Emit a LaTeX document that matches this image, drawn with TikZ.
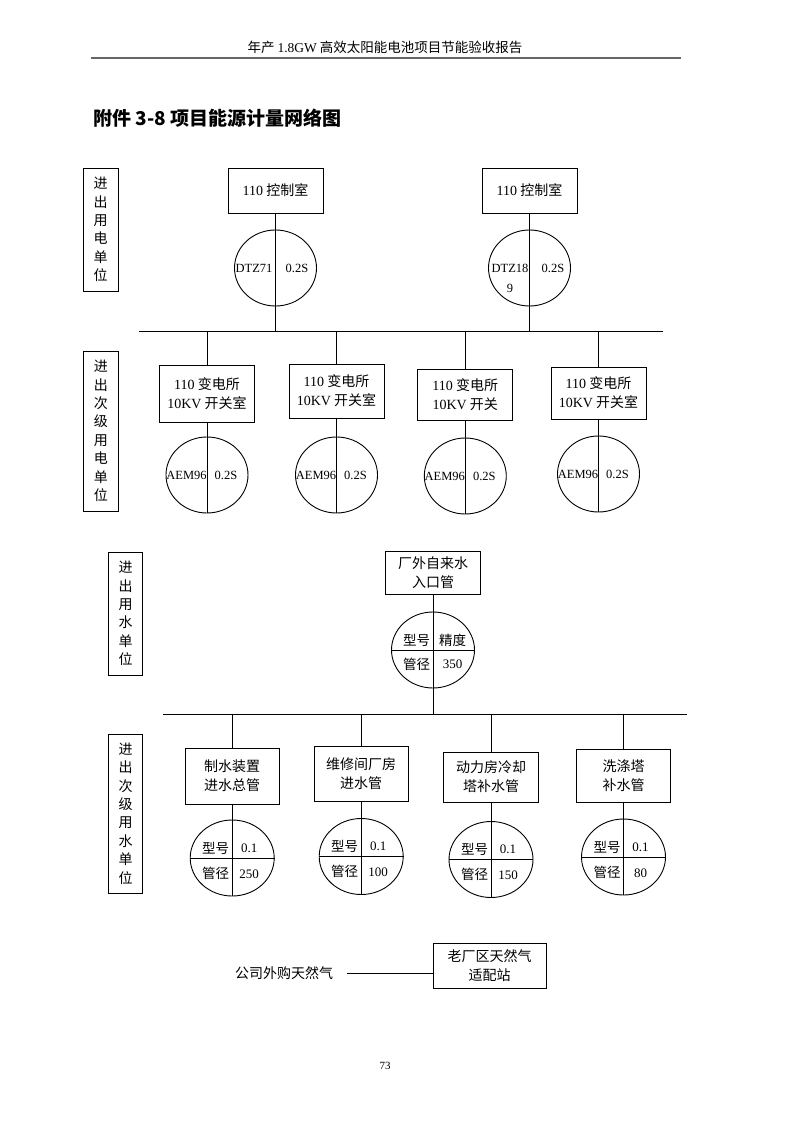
\documentclass[tikz,border=0pt]{standalone}
\usepackage{fontspec}
\setmainfont{Noto Sans CJK SC}
\newfontfamily\tms{Liberation Serif}
\usetikzlibrary{shapes.geometric}
\begin{document}
\begin{tikzpicture}[x=1pt,y=-1pt,
  every node/.style={inner sep=0pt},
  wire/.style={line width=0.9pt},
  boxn/.style={draw, line width=0.9pt, align=center, font=\fontsize{14}{19}\selectfont},
  meter/.style={draw, ellipse, line width=0.9pt, minimum width=82pt, minimum height=76pt},
  lbl/.style={draw, line width=0.9pt, align=center, minimum width=35pt, font=\fontsize{14}{18.4}\selectfont},
  mt/.style={font=\fontsize{12.5}{20}\selectfont\tms},
  ct/.style={font=\fontsize{13.5}{16}\selectfont},
  nt/.style={font=\fontsize{13}{16}\selectfont\tms},
]
\fill[white] (0,0) rectangle (800,1131);
\useasboundingbox (0,0) rectangle (800,1131);

% header
\node[font=\fontsize{13.5}{15}\selectfont] (hd) at (385,47) {年产 {\tms 1.8GW} 高效太阳能电池项目节能验收报告};
\coordinate (hl) at (91,58);
\coordinate (hr) at (681,58);
\draw[line width=1.8pt, black!60] (hl) -- (hr);
\node[font=\fontsize{19}{21}\selectfont\bfseries, anchor=west] (ttl) at (93,118) {附件 3-8 项目能源计量网络图};

% ---------- section 1 ----------
\node[lbl, minimum height=123pt] (lab1) at (100.5,229.5) {进\\出\\用\\电\\单\\位};
\node[boxn, minimum width=95pt, minimum height=45pt] (c1) at (275.5,190.5) {{\tms 110} 控制室};
\node[boxn, minimum width=95pt, minimum height=45pt] (c2) at (529.5,190.5) {{\tms 110} 控制室};
\node[meter] (m1) at (275.5,268) {};
\node[meter] (m2) at (529.5,268) {};
\coordinate (b1L) at (139,331);
\coordinate (b1R) at (663,331);
\draw[wire] (b1L) -- (b1R);
\draw[wire] (c1.south) -- (c1.south |- b1L);
\draw[wire] (c2.south) -- (c2.south |- b1L);
\node[mt] (m1l) at (254,268) {DTZ71};
\node[mt] (m1r) at (297,268) {0.2S};
\node[mt, align=center] (m2l) at (510,278) {DTZ18\\9};
\node[mt] (m2r) at (553,268) {0.2S};

% ---------- section 2 ----------
\node[lbl, minimum height=160pt] (lab2) at (100.75,431) {进\\出\\次\\级\\用\\电\\单\\位};
\node[boxn, minimum width=95pt, minimum height=57pt] (s1) at (207,393.5) {{\tms 110} 变电所\\{\tms 10KV} 开关室};
\node[boxn, minimum width=95pt, minimum height=54pt] (s2) at (336.5,391) {{\tms 110} 变电所\\{\tms 10KV} 开关室};
\node[boxn, minimum width=95pt, minimum height=51pt] (s3) at (465.3,394.5) {{\tms 110} 变电所\\{\tms 10KV} 开关};
\node[boxn, minimum width=95pt, minimum height=52pt] (s4) at (598.5,393) {{\tms 110} 变电所\\{\tms 10KV} 开关室};
\foreach \i in {1,2,3,4} {
  \draw[wire] (s\i.north |- b1L) -- (s\i.north);
}
\node[meter] (e1) at (207,475) {};
\node[meter] (e2) at (336.5,475) {};
\node[meter] (e3) at (465.3,476) {};
\node[meter] (e4) at (598.5,474) {};
\foreach \i in {1,2,3,4} {
  \draw[wire] (s\i.south) -- (e\i.south);
  \node[mt] (e\i l) at ([xshift=-20.5pt]e\i.center) {AEM96};
  \node[mt] (e\i r) at ([xshift=19pt]e\i.center) {0.2S};
}

% ---------- section 3 ----------
\node[lbl, minimum width=34.5pt, minimum height=123pt] (lab3) at (125.6,613.5) {进\\出\\用\\水\\单\\位};
\node[boxn, minimum width=95pt, minimum height=43pt] (w0) at (433,572.5) {厂外自来水\\入口管};
\node[meter, minimum width=83pt] (w0m) at (433,650) {};
\coordinate (b2L) at (163,714);
\coordinate (b2R) at (687,714);
\draw[wire] (b2L) -- (b2R);
\draw[wire] (w0.south) -- (w0.south |- b2L);
\draw[wire] (w0m.west) -- (w0m.east);
\node[ct] (w0a) at (416.5,640) {型号};
\node[ct] (w0b) at (452.5,640) {精度};
\node[ct] (w0c) at (416.5,664) {管径};
\node[nt] (w0d) at (452.5,664) {350};

% ---------- section 4 ----------
\node[lbl, minimum width=34.5pt, minimum height=159pt] (lab4) at (125.5,813.5) {进\\出\\次\\级\\用\\水\\单\\位};
\node[boxn, minimum width=94.5pt, minimum height=56pt] (p1) at (232.2,776) {制水装置\\进水总管};
\node[boxn, minimum width=94.5pt, minimum height=55pt] (p2) at (361.2,773.5) {维修间厂房\\进水管};
\node[boxn, minimum width=94.5pt, minimum height=50pt] (p3) at (491,777) {动力房冷却\\塔补水管};
\node[boxn, minimum width=94.5pt, minimum height=53pt] (p4) at (623.5,775.5) {洗涤塔\\补水管};
\node[meter, minimum width=84pt] (q1) at (232.2,858) {};
\node[meter, minimum width=84pt] (q2) at (361.2,856.5) {};
\node[meter, minimum width=84pt] (q3) at (491,859.5) {};
\node[meter, minimum width=84pt] (q4) at (623.5,857) {};
\foreach \i/\d in {1/250,2/100,3/150,4/80} {
  \draw[wire] (p\i.north |- b2L) -- (p\i.north);
  \draw[wire] (p\i.south) -- (q\i.south);
  \draw[wire] (q\i.west) -- (q\i.east);
  \node[ct] (q\i a) at ([shift={(-16.5,-10)}]q\i.center) {型号};
  \node[nt] (q\i b) at ([shift={(17,-10)}]q\i.center) {0.1};
  \node[ct] (q\i c) at ([shift={(-16.5,15)}]q\i.center) {管径};
  \node[nt] (q\i d) at ([shift={(17,16)}]q\i.center) {\d};
}

% ---------- section 5 ----------
\node[font=\fontsize{14}{16}\selectfont] (g0) at (284,973) {公司外购天然气};
\node[boxn, minimum width=113pt, minimum height=45pt] (g1) at (489.5,965.5) {老厂区天然气\\适配站};
\draw[wire, shorten <=13.5pt] (g0.east) -- (g1.west |- g0.east);

\node[font=\fontsize{11}{13}\selectfont\tms] (pg) at (385,1066) {73};
\end{tikzpicture}
\end{document}
